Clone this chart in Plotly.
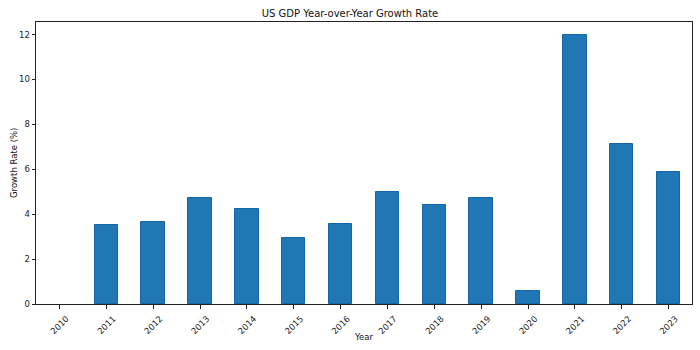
import plotly.graph_objects as go

years = ["2010", "2011", "2012", "2013", "2014", "2015", "2016",
         "2017", "2018", "2019", "2020", "2021", "2022", "2023"]
growth = [None, 3.50, 3.64, 4.71, 4.21, 2.93, 3.55,
          4.98, 4.40, 4.71, 0.56, 11.97, 7.11, 5.87]
y_ticks = [0, 2, 4, 6, 8, 10, 12]

font = "DejaVu Sans"
W, H = 700, 350
L, R, T, B = 36, 8, 22, 46
pw, ph = W - L - R, H - T - B

fig = go.Figure(go.Bar(
    x=years, y=growth, width=0.5,
    marker=dict(color="#1f77b4", line=dict(color="#1565a8", width=1)),
))

axis_common = dict(
    showline=True, linecolor="#222", linewidth=1, mirror=True,
    ticks="outside", ticklen=3.5, tickcolor="#222", tickwidth=1,
    showgrid=False, zeroline=False, automargin=False,
    tickfont=dict(family=font, size=8.5, color="#222"),
)

fig.update_layout(
    width=W, height=H,
    margin=dict(l=L, r=R, t=T, b=B),
    paper_bgcolor="white", plot_bgcolor="white",
    title=dict(text="US GDP Year-over-Year Growth Rate", x=0.5, xanchor="center",
               y=1 - 13/H, yanchor="middle",
               font=dict(family=font, size=10, color="#111")),
    xaxis=dict(axis_common, type="category", range=[-0.5, 13.5], tickangle=-45,
               ticklabelshift=7, ticklabelstandoff=2),
    yaxis=dict(axis_common, range=[0, 12.56], tickvals=y_ticks),
    showlegend=False,
    bargap=0,
    annotations=[
        dict(text="Year", xref="paper", yref="paper", x=0.5, y=(304 - 337) / ph,
             xanchor="center", yanchor="middle", showarrow=False,
             font=dict(family=font, size=8.5, color="#111")),
        dict(text="Growth Rate (%)", xref="paper", yref="paper", x=(14 - L) / pw, y=0.5,
             xanchor="center", yanchor="middle", showarrow=False, textangle=-90,
             font=dict(family=font, size=8.5, color="#111")),
    ],
)

fig.write_html("out.html")
